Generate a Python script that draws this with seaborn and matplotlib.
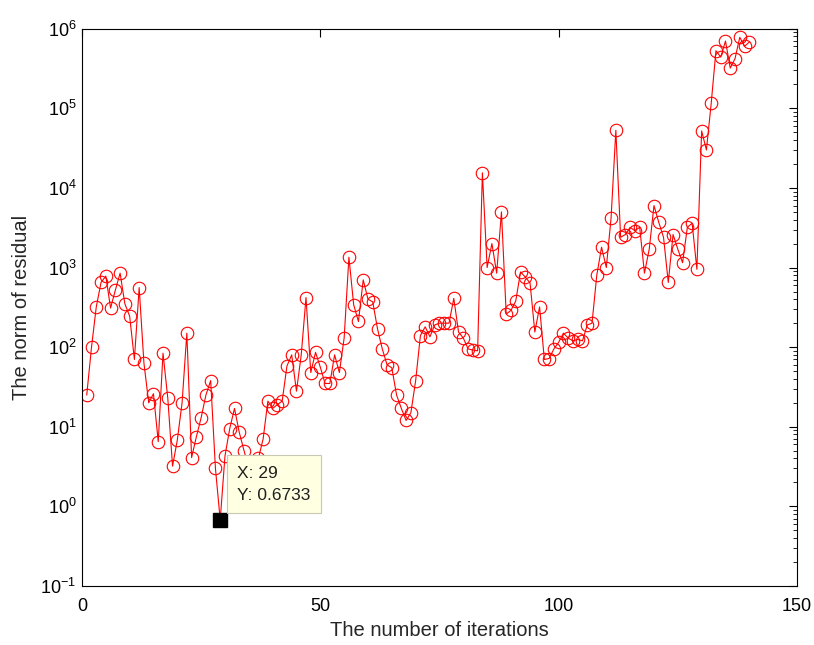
import numpy as np
import pandas as pd
import seaborn as sns
import matplotlib
matplotlib.use("Agg")
import matplotlib.pyplot as plt
from matplotlib.ticker import LogLocator, FixedLocator

# residual norm per iteration
residual = [
    25, 100, 320, 650, 780, 310, 520, 850, 350, 245,
    70, 560, 63, 20, 26, 6.5, 84, 23, 3.2, 6.8,
    20, 150, 4.1, 7.5, 13, 25, 38, 3.0, 0.6733, 4.3,
    9.5, 17, 8.5, 5, 3, 2.5, 4, 7, 21, 17,
    19, 21, 58, 80, 28, 80, 420, 48, 86, 56,
    35, 35, 80, 48, 130, 1350, 340, 210, 700, 400,
    370, 170, 95, 60, 55, 25, 17, 12, 15, 38,
    140, 180, 135, 190, 200, 200, 200, 410, 155, 130,
    95, 92, 90, 15500, 1000, 2000, 850, 5000, 260, 290,
    380, 880, 760, 640, 155, 320, 70, 72, 95, 115,
    150, 130, 120, 125, 120, 190, 200, 800, 1800, 1000,
    4200, 53000, 2400, 2600, 3200, 2900, 3200, 850, 1700, 6000,
    3700, 2400, 650, 2600, 1700, 1150, 3200, 3600, 950, 52000,
    30000, 115000, 530000, 440000, 700000, 320000, 420000, 780000, 600000, 680000,
]
iterations = list(range(1, len(residual) + 1))
tip_x = 29
tip_y = 0.6733

df = pd.DataFrame({"iter": iterations, "res": residual})

sns.set_style("white")
plt.rcParams["font.family"] = ["Liberation Sans", "DejaVu Sans"]

fig = plt.figure(figsize=(8.14, 6.45), dpi=100)
ax = fig.add_axes([0.1007, 0.0915, 0.8784, 0.864])

sns.lineplot(data=df, x="iter", y="res", ax=ax, color="red", lw=0.8,
             marker="o", markersize=9, markerfacecolor="none",
             markeredgecolor="red", markeredgewidth=0.8)

ax.set_yscale("log")
ax.set_xlim(0, 150)
ax.set_ylim(1e-1, 1e6)
ax.xaxis.set_major_locator(FixedLocator([0, 50, 100, 150]))
ax.yaxis.set_major_locator(LogLocator(base=10, numticks=12))
ax.yaxis.set_minor_locator(LogLocator(base=10, subs=np.arange(2, 10), numticks=12))
ax.tick_params(which="both", direction="in", top=True, right=True,
               labelsize=13, colors="black")
ax.tick_params(which="major", length=6, width=0.8)
ax.tick_params(which="minor", length=3, width=0.6)
ax.tick_params(axis="x", pad=9)
ax.tick_params(axis="y", pad=4)
for s in ax.spines.values():
    s.set_color("black")
    s.set_linewidth(0.8)

ax.set_xlabel("The number of iterations", fontsize=14.5, labelpad=4)
ax.set_ylabel("The norm of residual", fontsize=14.5, labelpad=7)

# data tip
ax.plot([tip_x], [tip_y], marker="s", color="black", markersize=9.5, zorder=5)
ax.annotate("X: 29\nY: 0.6733", xy=(tip_x, tip_y), xytext=(17, 17),
            textcoords="offset pixels", ha="left", va="bottom",
            fontsize=12.5, linespacing=1.6, zorder=6, color="#202020",
            bbox=dict(boxstyle="square,pad=0.6", fc="#ffffe1", ec="#c8c8b4", lw=0.8))

fig.savefig("out.png", dpi=100)
